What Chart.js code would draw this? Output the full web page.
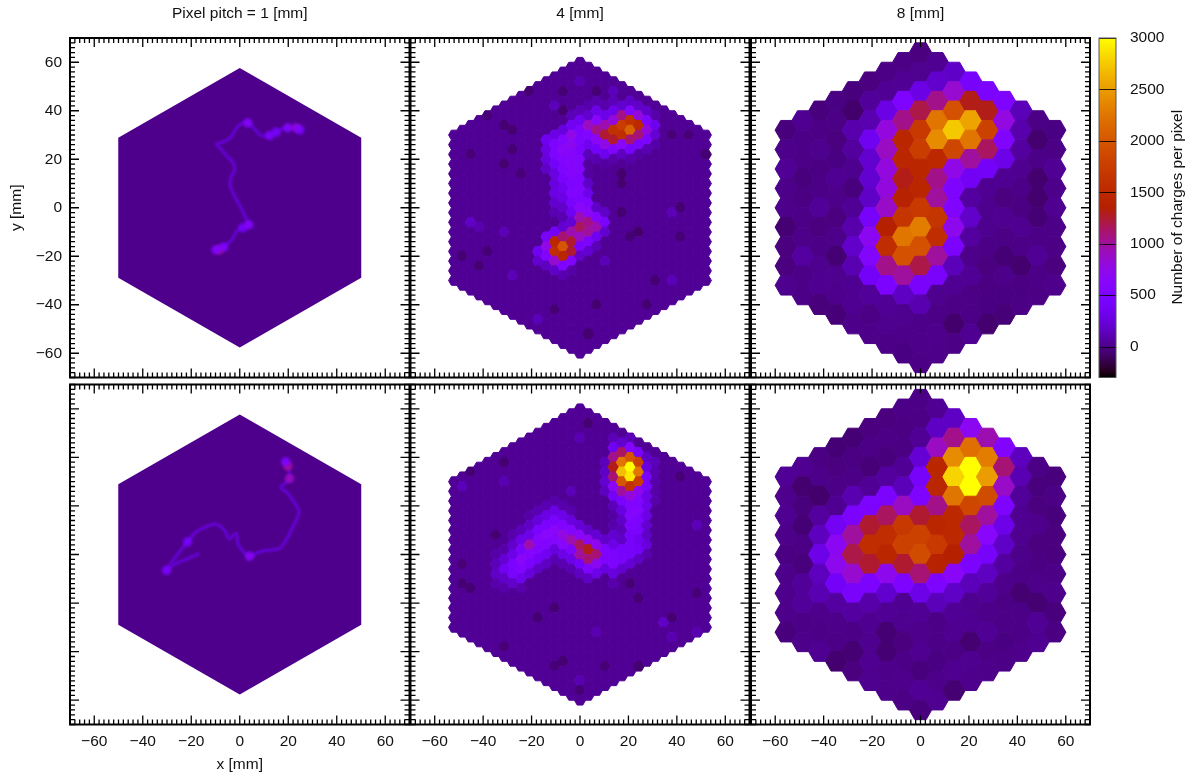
<!DOCTYPE html>
<html>
<head>
<meta charset="utf-8">
<title>Charges per pixel</title>
<script src="https://cdn.jsdelivr.net/npm/chart.js@4"></script>
<style>
  body { margin: 0; background: #fff; }
  #page { position: relative; width: 1199px; height: 776px; overflow: hidden; }
  canvas { position: absolute; left: 0; top: 0; }
</style>
</head>
<body>
<div id="page"></div>
<script>
const columnTitles = ["Pixel pitch = 1 [mm]", "4 [mm]", "8 [mm]"];
const axisTicks = [-60, -40, -20, 0, 20, 40, 60];
const colorbarTicks = [0, 500, 1000, 1500, 2000, 2500, 3000];
const colorMin = -300;
const colorMax = 3000;

// outline of the 1 mm sensor
const sensorCornersX = [0, 50.1, 50.1, 0, -50.1, -50.1];
const sensorCornersY = [57.6, 28.9, -28.9, -57.6, -28.9, 28.9];
const sensorLevel = 5;

// 1 mm tracks: x, y, charges
const trackTop1 = [
  [-8.4,-17.3,1000],[-9.8,-17.3,550],[-6.7,-16.2,500],[-5,-14.8,250],[-2.9,-12.8,300],[-1.5,-10,350],
  [1.2,-8.2,420],[3.7,-7,600],[2.6,-4.5,300],[1,-1.1,300],[-0.8,2.3,320],[-2.6,5.8,280],[-4,9.2,250],
  [-3.6,12.6,230],[-2.2,15.4,230],[-2.9,18.8,250],[-5.6,21.6,280],[-7.7,24.3,280],[-9.5,26.1,320],
  [-7,27.1,280],[-3.6,29.1,300],[-1.5,32.6,300],[0.6,34.6,350],[3.3,35,600],[6,32.6,280],[8.8,29.8,300],
  [12.3,29.8,500],[15,31.2,420],[17.1,32.3,300],[19.8,33,600],[23.3,33,800],[24.7,32.2,500]
];
const trackBottom1 = [
  [-17.4,0.1,250],[-22.9,-2.3,250],[-27,-4,280],[-30.2,-6.5,480],[-26.4,-1,250],[-21.5,5.2,450],
  [-18,9.3,300],[-13.9,11.4,280],[-9.8,12.5,350],[-6.3,10,260],[-4.3,6.6,280],[-1.5,8.7,380],[-0.8,4.5,300],
  [1,1.8,250],[4,-0.7,650],[8.1,1.1,300],[12.3,1.8,280],[16.4,2.5,300],[19.1,5.9,280],[21.9,11.4,260],
  [24.4,17.6,260],[21.9,22.4,260],[19.1,25.8,280],[17.1,27.6,350],[20.5,31.3,900],[19.8,36.4,1000],[18.9,38.2,550]
];

// 4 mm pixels: background level, then runs of column, top y, values going down
const background4 = 30;
const runsTop4 = [
  [-5,-18,350,200],
  [-4,28,350,280,250,170],[-4,-12,450,750,550,150],
  [-3,30,280,500,520,400,270,260,280,200,110],[-3,-10,400,1450,1550,850,170],
  [-2,32,250,560,650,560,500,460,350,280,180,110],[-2,-8,200,1100,2000,1450,500,100],
  [-1,38,120,360,750,700,600,600,600,520,550,450,350,220,950,1250,1250,550,80],
  [0,40,130,350,500,520,480,560,560,500,550,520,650,950,1150,900,450,180],
  [1,42,90,200,900,550,350,130,60,60,170,300,500,650,1050,1000,480,200],
  [2,44,90,300,620,1050,650,400,100],[2,0,170,580,950,350,120],
  [3,42,90,300,950,1250,750,320,60],[3,-2,170,450,200],
  [4,44,120,300,800,1600,1250,550,90],
  [5,42,200,1050,1750,1550,650,150],
  [6,44,170,560,1600,2100,1100,430,80],
  [7,42,180,800,1500,1100,450,70],
  [8,40,170,500,800,500,110],
  [9,38,90,330,220,80]
];
const spotsTop4 = [
  [7,-10,-75],[5,14,-65],[5,10,-60],[-8,32,-60],[-9,34,-60],[-2,40,-65],[-6,48,-60],[-2,48,-50],
  [2,48,-50],[-8,24,-50],[-9,18,-60],[-11,38,-45],[-14,-20,-55],[-12,-24,-55],[-11,-18,-50],[9,-30,-60],
  [2,-40,-60],[-3,-42,-55],[8,-40,-55],[1,-52,-60],[-7,14,-45],[-13,22,-45],[5,-2,-60],[12,0,-60],
  [12,-12,-50],[6,-12,-50],[15,22,-55],[11,30,-45],[13,30,-45],
  [4,48,130],[-13,-6,170],[11,-2,120],[-5,-46,120],[-8,-28,120],[-12,-8,100],[-9,-10,120],[3,-22,120],
  [11,-30,130],[0,52,110],[-3,42,130]
];
const runsBottom4 = [
  [-10,0,80,130,170,90],
  [-9,2,80,220,350,170,80],
  [-8,8,90,180,300,480,450,180],
  [-7,10,130,300,450,650,550,320,90],
  [-6,16,80,170,300,950,600,470,250],
  [-5,18,110,240,470,600,550,400,170],
  [-4,20,110,280,470,620,550,350,150],
  [-3,22,80,280,460,650,560,250,110],
  [-2,20,90,300,530,780,620,300,100],
  [-1,18,90,250,560,950,500,300,100],
  [0,12,220,650,1150,1000,400,150],
  [1,10,180,700,1300,1100,500,160],
  [2,8,220,720,1100,700,300],
  [3,6,180,500,520,250],[3,38,130,170,200,150],
  [4,48,120,350,1050,1300,1100,650,380,130,70,90,200,300,480,500,250,90],
  [5,46,200,1150,2250,2700,2000,1000,450,250,170,130,170,420,450,200],
  [6,48,120,580,2000,3000,2900,1600,800,540,560,500,430,430,420,220],
  [7,42,450,1800,2250,1750,700,550,570,480,450,350,400,170],
  [8,40,160,250,450,450,300,320,280,200,170,250,100],
  [9,38,120,100,90,80,90]
];
const spotsBottom4 = [
  [-14,28,130],[-9,30,110],[0,48,110],[-1,26,120],[10,-28,170],[14,12,130],[0,-52,110],[2,-32,100],
  [11,-34,110],[14,-32,100],
  [1,54,-60],[-9,38,-60],[-13,34,-55],[12,32,-45],[-13,-14,-55],[-14,-12,-50],[-10,8,-55],[-14,-4,-40],
  [-3,-22,-55],[-5,-26,-55],[11,-26,-60],[-2,-44,-60],[7,-46,-60],[7,-18,-50],[3,-46,-45],[-3,-46,-45],
  [-9,-38,-45],[14,-16,-45],[6,-12,-50],[0,-56,-45]
];

// 8 mm pixels, one list per column from left to right, top cell first
const columnsTop8 = [
  [-30,0,30,0,0,-55,-25,-25,10],
  [15,-5,-5,-30,-15,-5,0,60,-5,-5],
  [-30,-10,10,-15,-5,35,-25,-5,10,15,-35],
  [-20,-10,-25,-20,20,0,-25,0,-55,10,5,-45],
  [-30,-70,90,50,10,-30,30,90,180,110,20,20,0],
  [-25,40,100,350,200,200,170,420,700,560,400,40,-10,0],
  [-10,30,280,800,900,800,800,880,1350,1550,1050,480,30,10,-5],
  [-10,30,500,1050,1450,1450,1300,1400,1650,2250,1950,1000,150,10,0,-20],
  [-25,10,280,1200,1700,1750,1450,1450,1700,2300,1950,1200,450,100,0,0,-10],
  [20,190,1050,2250,2400,1500,1050,1000,1650,1550,1000,450,10,-5,5,0],
  [170,850,1950,2750,1850,750,520,530,720,480,130,20,-10,-70,-10],
  [430,1300,2550,2250,1000,370,60,180,60,0,30,-10,-5,20],
  [480,1300,1800,1150,400,20,10,10,-5,-25,-15,-20,-65],
  [500,780,550,300,20,-25,15,-10,-50,0,-20,-45],
  [120,90,60,15,-5,-15,15,-5,-65,-15,-10],
  [-10,-65,-5,-65,-65,-50,-5,30,-5,-10],
  [-20,-10,30,0,15,-5,-10,-25,5]
];
const columnsBottom8 = [
  [25,5,15,0,-15,0,5,0,-30],
  [20,-65,-30,-50,-10,-30,40,40,-5,0],
  [-15,0,-70,50,140,300,140,110,5,-5,20],
  [-50,-25,-5,20,380,680,720,400,60,0,-5,-65],
  [-50,-15,-5,100,480,1000,1200,850,450,60,-5,-55,-25],
  [-25,-5,-45,30,480,1250,1550,1250,480,80,15,10,15,10],
  [-25,-10,-30,50,480,1150,1550,1450,720,190,30,-55,-55,0,0],
  [-5,-15,-15,30,130,900,1700,1800,1250,500,20,10,-25,-5,5,-10],
  [-5,-10,30,220,430,500,1250,1800,1900,1100,300,25,5,15,-30,30,-30],
  [30,160,900,1450,1450,1050,1450,1700,1400,520,130,-5,-5,-20,0,15],
  [160,1050,2400,2800,2250,1500,1500,1350,650,170,25,15,-10,15,-60],
  [700,2200,3100,3000,1850,1150,1000,480,130,10,20,-60,10,5],
  [950,2300,2500,1900,1000,620,420,150,40,0,30,-10,0],
  [540,1100,880,500,300,170,60,5,-10,-5,-20,-5],
  [140,110,40,20,15,0,-5,-60,-5,-5,5],
  [-10,-30,-25,5,-25,-15,0,-60,25,20],
  [-30,-10,-30,-25,-25,-5,5,-30,-15]
];

const rowRects = [{ top: 38, bottom: 377.5 }, { top: 384.5, bottom: 724.5 }];
const colRects = [{ left: 70, right: 409.5 }, { left: 410.5, right: 749.5 }, { left: 751, right: 1090 }];
const labelFont = { family: "'Liberation Sans', Arial, sans-serif", size: 15.5, weight: "normal" };
const textColor = "#111";
const pageW = 1199;
const pageH = 776;

// gnuplot default palette (rgbformulae 7,5,15)
function palette(v) {
  const g = Math.min(1, Math.max(0, (v - colorMin) / (colorMax - colorMin)));
  const r = Math.sqrt(g);
  const gr = g * g * g;
  const b = Math.max(0, Math.sin(2 * Math.PI * g));
  return [Math.round(r * 255), Math.round(gr * 255), Math.round(b * 255)];
}
function paletteCss(v, a) {
  const c = palette(v);
  return a === undefined ? `rgb(${c[0]},${c[1]},${c[2]})` : `rgba(${c[0]},${c[1]},${c[2]},${a})`;
}

function cellsFromColumns(columns, pitch, radius) {
  const cells = [];
  columns.forEach((values, i) => {
    const col = i - radius;
    const top = pitch * (radius - Math.abs(col) / 2);
    values.forEach((v, k) => {
      cells.push({ x: col * pitch * Math.sqrt(3) / 2, y: top - k * pitch, v });
    });
  });
  return cells;
}

function cellsFromRuns(base, runs, spots, pitch, radius) {
  const grid = new Map();
  for (let col = -radius; col <= radius; col++) {
    const n = 2 * radius + 1 - Math.abs(col);
    const top = pitch * (radius - Math.abs(col) / 2);
    for (let k = 0; k < n; k++) grid.set(col + "," + (top - k * pitch), base);
  }
  spots.forEach(s => grid.set(s[0] + "," + s[1], s[2]));
  runs.forEach(run => {
    const vals = run.slice(2);
    vals.forEach((v, k) => grid.set(run[0] + "," + (run[1] - k * pitch), v));
  });
  const cells = [];
  grid.forEach((v, key) => {
    const p = key.split(",").map(Number);
    cells.push({ x: p[0] * pitch * Math.sqrt(3) / 2, y: p[1], v });
  });
  return cells;
}

const glowSprites = new Map();
function glowSprite(color) {
  if (glowSprites.has(color)) return glowSprites.get(color);
  const cv = document.createElement("canvas");
  cv.width = 14;
  cv.height = 14;
  const c = cv.getContext("2d");
  const g = c.createRadialGradient(7, 7, 0, 7, 7, 6.5);
  g.addColorStop(0, color.replace("rgb(", "rgba(").replace(")", ",1)"));
  g.addColorStop(0.5, color.replace("rgb(", "rgba(").replace(")", ",0.75)"));
  g.addColorStop(1, color.replace("rgb(", "rgba(").replace(")", ",0)"));
  c.fillStyle = g;
  c.fillRect(0, 0, 14, 14);
  glowSprites.set(color, cv);
  return cv;
}

function hexDataset(cells, pitch) {
  return { data: cells, pointRadius: 0, hexPitch: pitch };
}

// fills a flat-top hexagon at each point the library has laid out
const hexCells = {
  id: "hexCells",
  afterDatasetsDraw(chart) {
    const { ctx, scales } = chart;
    chart.data.datasets.forEach((ds, i) => {
      if (!ds.hexPitch) return;
      const flat = Math.abs(scales.y.getPixelForValue(ds.hexPitch) - scales.y.getPixelForValue(0));
      const R = flat / Math.sqrt(3);
      ctx.save();
      ctx.lineWidth = 1;
      chart.getDatasetMeta(i).data.forEach((el, k) => {
        const color = paletteCss(ds.data[k].v);
        ctx.fillStyle = color;
        ctx.strokeStyle = color;
        ctx.beginPath();
        for (let a = 0; a < 6; a++) {
          const t = a * Math.PI / 3;
          ctx.lineTo(el.x + R * Math.cos(t), el.y + R * Math.sin(t));
        }
        ctx.closePath();
        ctx.fill();
        ctx.stroke();
      });
      ctx.restore();
    });
  }
};

function trackDatasets(track) {
  const pts = track.map(p => ({ x: p[0], y: p[1], v: p[2] }));
  const line = (width, alpha) => ({
    data: pts,
    showLine: true,
    pointRadius: 0,
    tension: 0.3,
    borderWidth: width,
    borderCapStyle: "round",
    borderJoinStyle: "round",
    borderColor: paletteCss(300, alpha)
  });
  // the library paints the first dataset last
  return [
    {
      data: pts,
      // only the blobs along the track get a glow
      pointRadius: ctx => (ctx.raw && ctx.raw.v >= 400 ? 1 : 0),
      pointStyle(ctx) {
        return glowSprite(paletteCss(ctx.raw ? ctx.raw.v : 0));
      }
    },
    line(3, 0.5),
    line(5.5, 0.25)
  ];
}

function sensorDataset() {
  return {
    data: sensorCornersX.map((x, i) => ({ x, y: sensorCornersY[i] })),
    showLine: true,
    fill: "shape",
    pointRadius: 0,
    borderWidth: 0,
    tension: 0,
    backgroundColor: paletteCss(sensorLevel)
  };
}

// inward gnuplot ticks on all four sides and the frame
const frameTicks = {
  id: "frameTicks",
  afterDatasetsDraw(chart) {
    const { ctx, chartArea: a, scales } = chart;
    ctx.save();
    ctx.strokeStyle = "#000";
    ctx.lineWidth = 1.3;
    ctx.beginPath();
    for (let v = -70; v <= 70; v += 2) {
      const len = axisTicks.includes(v) ? 9 : 5;
      const px = scales.x.getPixelForValue(v);
      const py = scales.y.getPixelForValue(v);
      ctx.moveTo(px, a.bottom); ctx.lineTo(px, a.bottom - len);
      ctx.moveTo(px, a.top); ctx.lineTo(px, a.top + len);
      ctx.moveTo(a.left, py); ctx.lineTo(a.left + len, py);
      ctx.moveTo(a.right, py); ctx.lineTo(a.right - len, py);
    }
    ctx.stroke();
    ctx.lineWidth = 2;
    ctx.strokeRect(a.left, a.top, a.right - a.left, a.bottom - a.top);
    ctx.restore();
  }
};

function addCanvas() {
  const cv = document.createElement("canvas");
  cv.width = pageW;
  cv.height = pageH;
  cv.style.width = pageW + "px";
  cv.style.height = pageH + "px";
  document.getElementById("page").appendChild(cv);
  return cv;
}

function minusLabel(value) {
  return String(value).replace("-", "\u2212");
}

function makePanel(row, col, datasets) {
  const r = rowRects[row];
  const c = colRects[col];
  const showX = row === 1;
  const showY = row === 0 && col === 0;
  const xH = showX ? 50 : 0;
  const yW = showY ? c.left : 0;
  const titleH = row === 0 ? r.top : 0;
  new Chart(addCanvas(), {
    type: "scatter",
    data: { datasets },
    plugins: [hexCells, frameTicks],
    options: {
      responsive: false,
      animation: false,
      events: [],
      layout: {
        padding: {
          left: c.left - yW,
          right: pageW - c.right,
          top: r.top - titleH,
          bottom: pageH - r.bottom - xH
        }
      },
      plugins: {
        legend: { display: false },
        tooltip: { enabled: false },
        title: {
          display: row === 0,
          text: columnTitles[col],
          color: textColor,
          font: { ...labelFont, lineHeight: 1.2 },
          fullSize: false,
          padding: { top: 4, bottom: r.top - 4 - 18.6 }
        }
      },
      scales: {
        x: {
          type: "linear",
          min: -70,
          max: 70,
          grid: { display: false },
          border: { display: false },
          afterBuildTicks(s) { s.ticks = axisTicks.map(value => ({ value })); },
          afterFit(s) { s.height = xH; },
          ticks: {
            display: showX,
            autoSkip: false,
            maxRotation: 0,
            padding: 0,
            color: textColor,
            font: labelFont,
            callback: minusLabel
          },
          title: {
            display: showX && col === 0,
            text: "x [mm]",
            color: textColor,
            font: labelFont,
            padding: { top: 0, bottom: 0 }
          }
        },
        y: {
          type: "linear",
          min: -70,
          max: 70,
          grid: { display: false },
          border: { display: false },
          afterBuildTicks(s) { s.ticks = axisTicks.map(value => ({ value })); },
          afterFit(s) { s.width = yW; },
          ticks: {
            display: showY,
            autoSkip: false,
            padding: 0,
            color: textColor,
            font: labelFont,
            callback: minusLabel
          },
          title: {
            display: showY,
            text: "y [mm]",
            color: textColor,
            font: labelFont,
            padding: { top: 7.5, bottom: 0 }
          }
        }
      }
    }
  });
}

// palette bar drawn as one floating bar with a gradient fill
function makeColorbar() {
  const barLeft = 1099;
  const barRight = 1116;
  const top = rowRects[0].top;
  const bottom = rowRects[0].bottom;
  const colorbarText = {
    id: "colorbarText",
    afterDraw(chart) {
      const { ctx, chartArea: a, scales } = chart;
      ctx.save();
      ctx.strokeStyle = "rgba(0,0,0,0.85)";
      ctx.lineWidth = 1;
      ctx.beginPath();
      colorbarTicks.forEach(v => {
        const py = Math.round(scales.y.getPixelForValue(v)) + 0.5;
        ctx.moveTo(a.left, py);
        ctx.lineTo(a.right, py);
      });
      ctx.stroke();
      ctx.strokeStyle = "#555";
      ctx.strokeRect(a.left, a.top, a.right - a.left, a.bottom - a.top);
      ctx.translate(1178, (a.top + a.bottom) / 2 - 0.5);
      ctx.rotate(-Math.PI / 2);
      ctx.fillStyle = textColor;
      ctx.font = `${labelFont.size}px ${labelFont.family}`;
      ctx.textAlign = "center";
      ctx.textBaseline = "middle";
      ctx.fillText("Number of charges per pixel", 0, 0);
      ctx.restore();
    }
  };
  new Chart(addCanvas(), {
    type: "bar",
    data: {
      labels: ["charges"],
      datasets: [{
        data: [[colorMin, colorMax]],
        barPercentage: 1,
        categoryPercentage: 1,
        borderSkipped: false,
        backgroundColor(ctx) {
          const a = ctx.chart.chartArea;
          if (!a) return "#000";
          const g = ctx.chart.ctx.createLinearGradient(0, a.bottom, 0, a.top);
          for (let i = 0; i <= 64; i++) {
            g.addColorStop(i / 64, paletteCss(colorMin + (colorMax - colorMin) * i / 64));
          }
          return g;
        }
      }]
    },
    plugins: [colorbarText],
    options: {
      responsive: false,
      animation: false,
      events: [],
      layout: {
        padding: { left: barLeft, top, bottom: pageH - bottom, right: 0 }
      },
      plugins: { legend: { display: false }, tooltip: { enabled: false } },
      scales: {
        x: { display: false },
        y: {
          position: "right",
          min: colorMin,
          max: colorMax,
          grid: { display: false },
          border: { display: false },
          afterBuildTicks(s) { s.ticks = colorbarTicks.map(value => ({ value })); },
          afterFit(s) { s.width = pageW - barRight; },
          ticks: {
            autoSkip: false,
            padding: 6,
            color: textColor,
            font: labelFont,
            callback: value => String(value)
          }
        }
      }
    }
  });
}

makePanel(0, 0, [...trackDatasets(trackTop1), sensorDataset()]);
makePanel(1, 0, [...trackDatasets(trackBottom1), sensorDataset()]);
makePanel(0, 1, [hexDataset(cellsFromRuns(background4, runsTop4, spotsTop4, 4, 15), 4)]);
makePanel(1, 1, [hexDataset(cellsFromRuns(background4, runsBottom4, spotsBottom4, 4, 15), 4)]);
makePanel(0, 2, [hexDataset(cellsFromColumns(columnsTop8, 8, 8), 8)]);
makePanel(1, 2, [hexDataset(cellsFromColumns(columnsBottom8, 8, 8), 8)]);
makeColorbar();
</script>
</body>
</html>
